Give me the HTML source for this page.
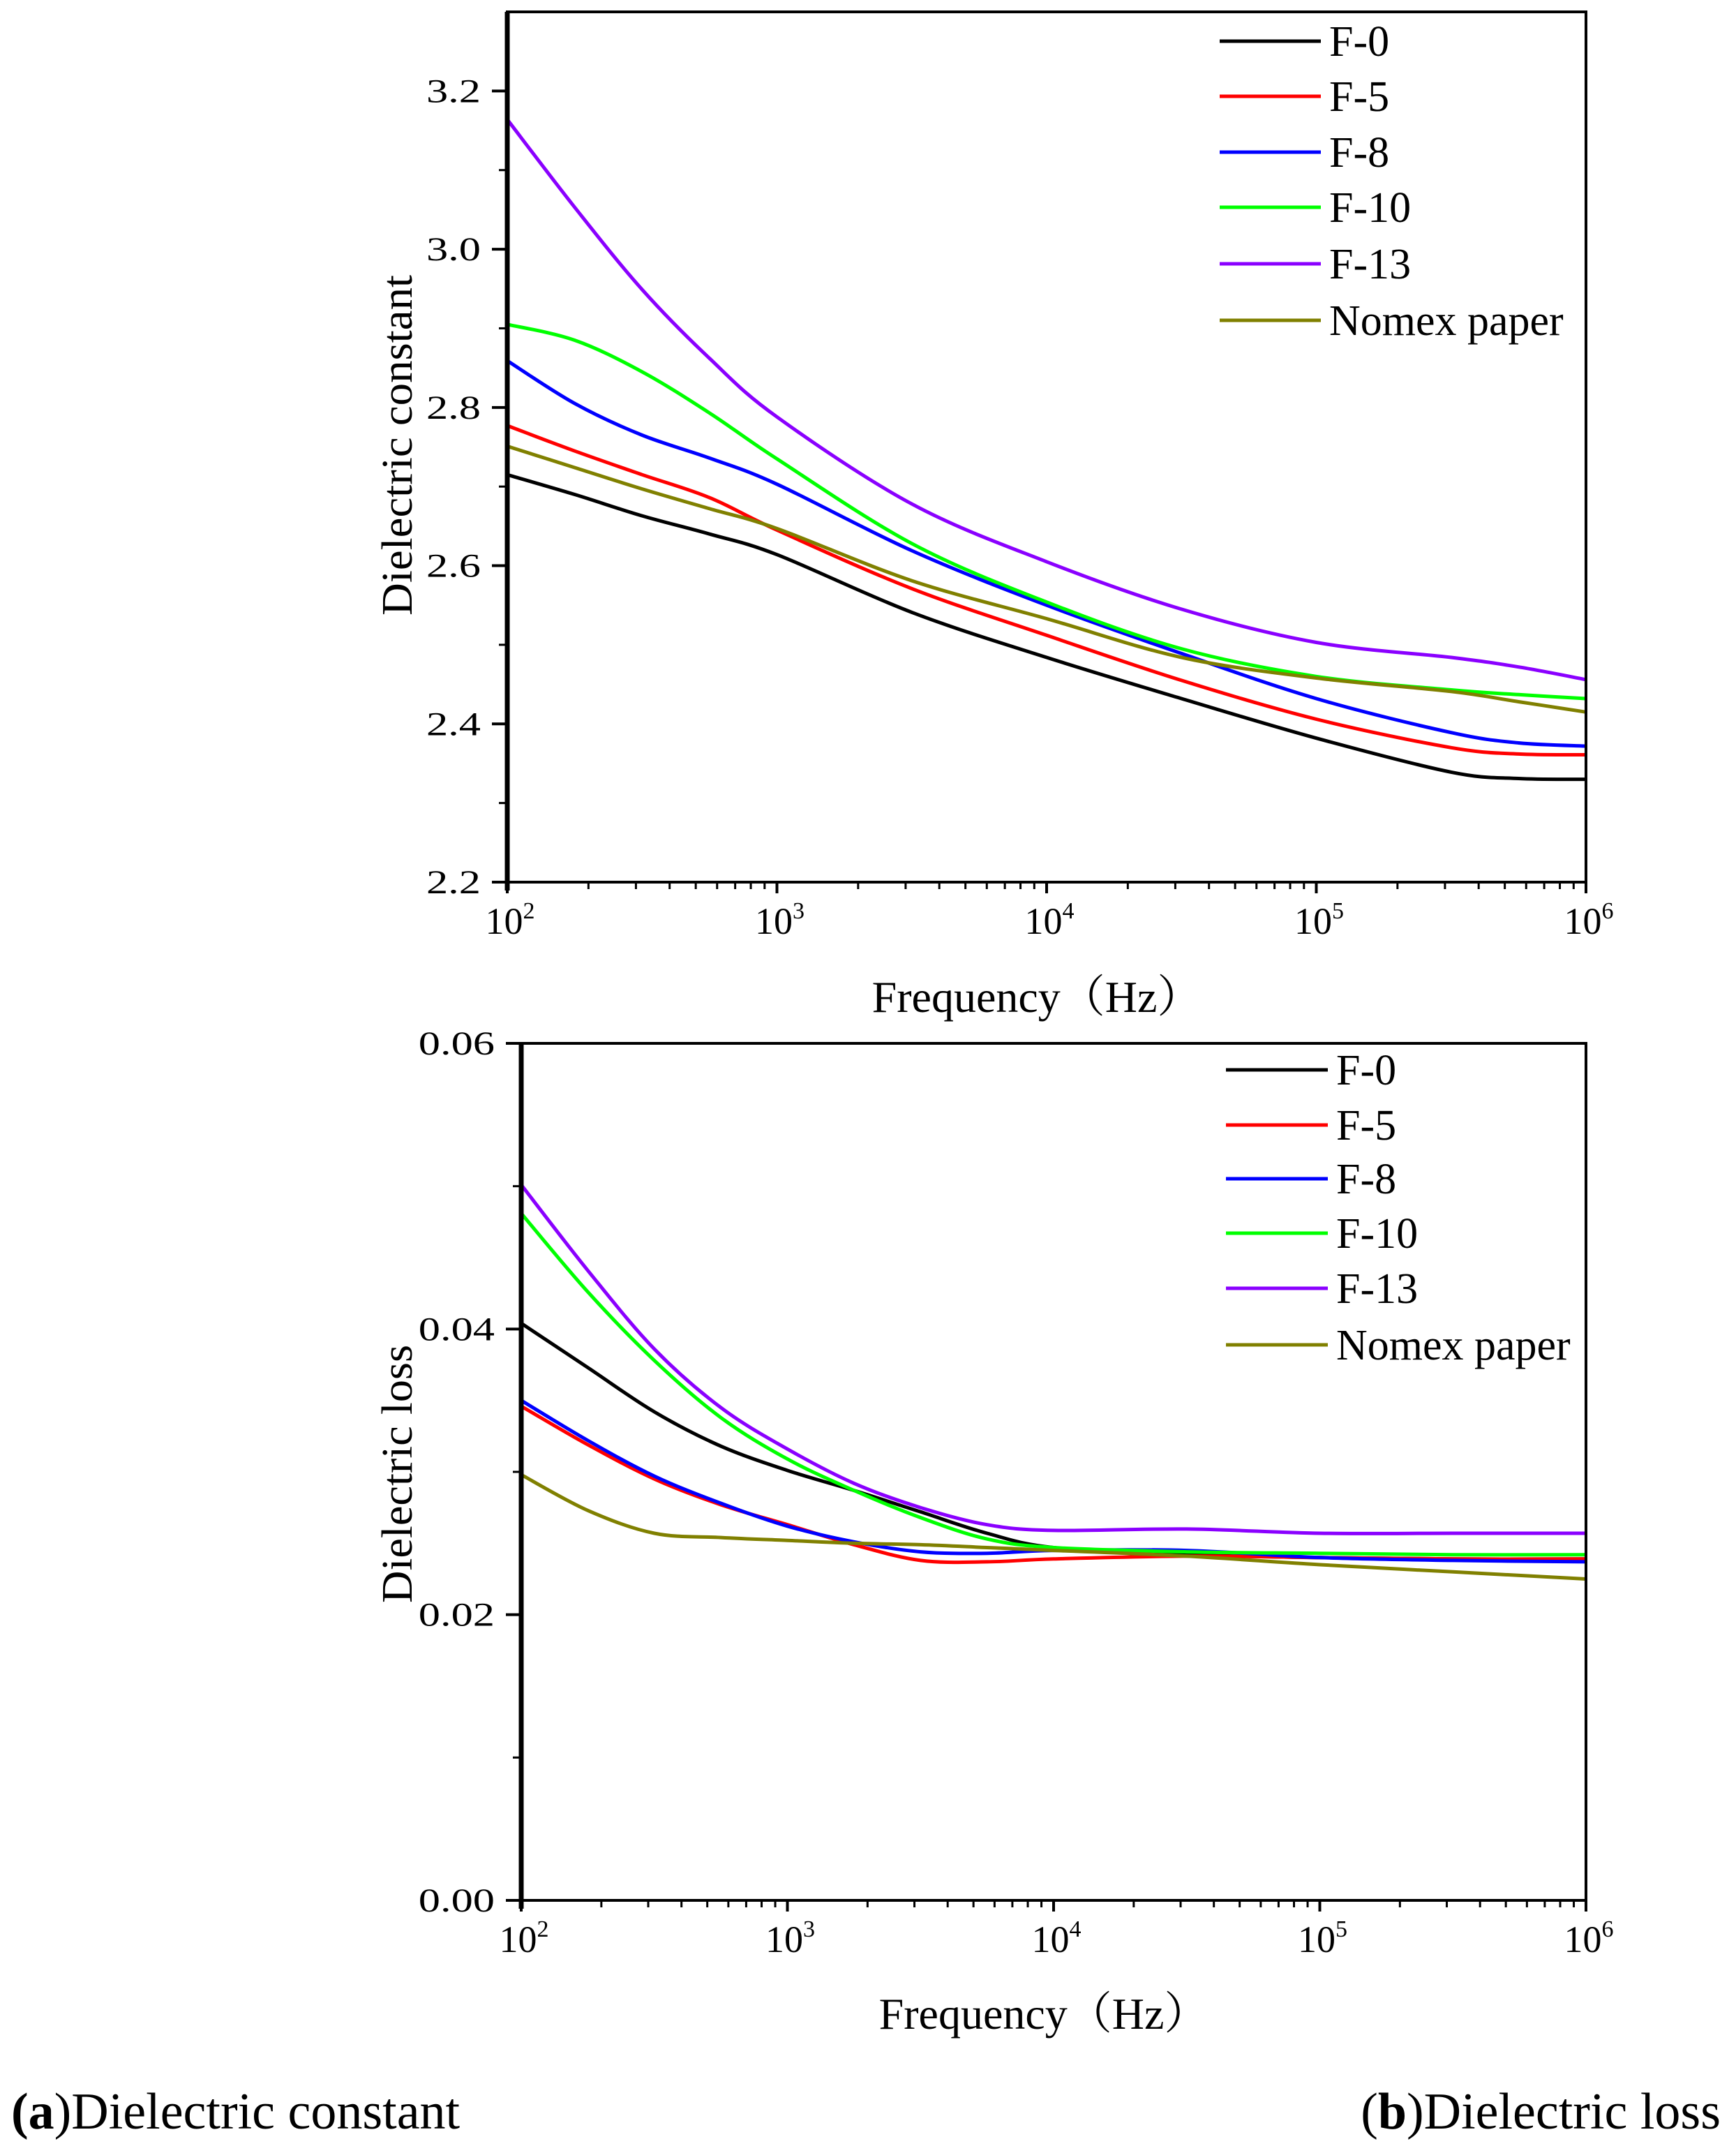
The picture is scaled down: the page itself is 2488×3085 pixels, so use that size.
<!DOCTYPE html>
<html><head><meta charset="utf-8"><style>
html,body{margin:0;padding:0;background:#fff;}
svg{display:block;font-family:"Liberation Serif","Noto Serif CJK SC",serif;}
</style></head><body>
<svg id="chart" width="2488" height="3085" viewBox="0 0 2488 3085" xmlns="http://www.w3.org/2000/svg">
<text x="16" y="3050" font-size="74"><tspan font-weight="bold">(a</tspan>)Dielectric constant</text>
<text x="2466" y="3050" font-size="74" text-anchor="end"><tspan>(</tspan><tspan font-weight="bold">b</tspan>)Dielectric loss</text>
</svg>
<script>
const seriesNames = ["F-0","F-5","F-8","F-10","F-13","Nomex paper"];
const seriesColors = ["#000000","#ff0000","#0000ff","#00ff00","#8a00ff","#808000"];
// Top chart: log10(frequency) exponents and dielectric constant
const topX = [2,2.25,2.5,2.75,3,3.5,4,4.5,5,5.5,5.75,6];
const topF0 = [2.715,2.690,2.663,2.640,2.614,2.541,2.484,2.432,2.382,2.339,2.331,2.330];
const topF5 = [2.777,2.745,2.715,2.686,2.645,2.571,2.512,2.455,2.406,2.370,2.362,2.361];
const topF8 = [2.859,2.805,2.765,2.736,2.703,2.619,2.550,2.489,2.432,2.389,2.376,2.372];
const topF10 = [2.905,2.885,2.845,2.793,2.735,2.628,2.554,2.495,2.460,2.443,2.437,2.432];
const topF13 = [3.164,3.053,2.949,2.862,2.788,2.678,2.605,2.545,2.503,2.484,2.472,2.456];
const topNomex = [2.751,2.724,2.697,2.672,2.647,2.581,2.533,2.484,2.458,2.441,2.428,2.415];
const topYTicks = ["2.2","2.4","2.6","2.8","3.0","3.2"];
// Bottom chart: dielectric loss
const botX = [2,2.25,2.5,2.75,3,3.25,3.5,3.75,4,4.5,5,5.5,6];
const botF0 = [0.0404,0.0373,0.0342,0.0318,0.0301,0.0287,0.0272,0.0257,0.0247,0.0242,0.0240,0.0239,0.0239];
const botF5 = [0.0346,0.0319,0.0295,0.0277,0.0263,0.0249,0.0238,0.0237,0.0239,0.0241,0.0240,0.0239,0.0239];
const botF8 = [0.0350,0.0322,0.0297,0.0278,0.0262,0.0251,0.0244,0.0243,0.0245,0.0245,0.0240,0.0238,0.0237];
const botF10 = [0.0481,0.0426,0.0378,0.0338,0.0309,0.0287,0.0268,0.0253,0.0247,0.0244,0.0243,0.0242,0.0242];
const botF13 = [0.0501,0.0441,0.0386,0.0345,0.0316,0.0292,0.0275,0.0263,0.0259,0.0260,0.0257,0.0257,0.0257];
const botNomex = [0.0298,0.0273,0.0257,0.0254,0.0252,0.0250,0.0249,0.0247,0.0245,0.0241,0.0235,0.0230,0.0225];
const botYTicks = ["0.00","0.02","0.04","0.06"];
const xTickExps = [2,3,4,5,6];

const NS="http://www.w3.org/2000/svg";
const svg=document.getElementById('chart');
function el(tag,attrs,parent){const e=document.createElementNS(NS,tag);for(const k in attrs)e.setAttribute(k,attrs[k]);(parent||svg).appendChild(e);return e;}
function smoothPath(pts){
  let d="M"+pts[0][0].toFixed(1)+","+pts[0][1].toFixed(1);
  for(let i=0;i<pts.length-1;i++){
    const p0=pts[Math.max(0,i-1)],p1=pts[i],p2=pts[i+1],p3=pts[Math.min(pts.length-1,i+2)];
    const c1=[p1[0]+(p2[0]-p0[0])/6,p1[1]+(p2[1]-p0[1])/6];
    const c2=[p2[0]-(p3[0]-p1[0])/6,p2[1]-(p3[1]-p1[1])/6];
    d+=" C"+c1[0].toFixed(1)+","+c1[1].toFixed(1)+" "+c2[0].toFixed(1)+","+c2[1].toFixed(1)+" "+p2[0].toFixed(1)+","+p2[1].toFixed(1);
  }
  return d;
}
function drawChart(cfg){
  const g=el('g',{});
  
  
  const xs=v=>cfg.L+(v-2)/4*(cfg.R-cfg.L);
  const ys=v=>cfg.B-(v-cfg.ymin)/(cfg.ymax-cfg.ymin)*(cfg.B-cfg.T);
  cfg.series.forEach((vals,si)=>{
    const pts=cfg.xv.map((x,i)=>[xs(x),ys(vals[i])]);
    const p=el('path',{d:smoothPath(pts),fill:'none',stroke:seriesColors[si],'stroke-width':5,'stroke-linejoin':'round'},g);
    
    
  });
  const fr=el('rect',{x:cfg.L,y:cfg.T,width:cfg.R-cfg.L,height:cfg.B-cfg.T,fill:'none',stroke:'#000','stroke-width':4},g);
  
  
  el('line',{x1:cfg.L,y1:cfg.T,x2:cfg.L,y2:cfg.B+12,stroke:'#000','stroke-width':7},g);
  cfg.yticks.forEach((t,i)=>{
    const v=parseFloat(t),y=ys(v);
    el('line',{x1:cfg.L-22,y1:y,x2:cfg.L,y2:y,stroke:'#000','stroke-width':4},g);
    const tx=el('text',{x:cfg.L-38,y:y+16,'font-size':48,'text-anchor':'end',transform:'translate('+(cfg.L-38)+',0) scale(1.3,1) translate('+(-(cfg.L-38))+',0)'},g);
    tx.textContent=t;
    
    
    if(i<cfg.yticks.length-1){
      const ym=ys(v+cfg.ystep/2);
      el('line',{x1:cfg.L-12,y1:ym,x2:cfg.L,y2:ym,stroke:'#000','stroke-width':3},g);
    }
  });
  xTickExps.forEach((e,i)=>{
    const x=xs(e);
    el('line',{x1:x,y1:cfg.B,x2:x,y2:cfg.B+16,stroke:'#000','stroke-width':4},g);
    const tx=el('text',{x:x+4,y:cfg.B+74,'font-size':54,'text-anchor':'middle'},g);
    tx.innerHTML='10<tspan font-size="34" dy="-22">'+e+'</tspan>';
    
    
    if(i<xTickExps.length-1){
      for(let m=2;m<=9;m++){
        const xm=xs(e+Math.log10(m));
        el('line',{x1:xm,y1:cfg.B,x2:xm,y2:cfg.B+10,stroke:'#000','stroke-width':3},g);
      }
    }
  });
  const xt=el('text',{x:cfg.xtX,y:cfg.xtY,'font-size':64,'text-anchor':'middle'},g);
  xt.textContent='Frequency（Hz）';
  
  
  const yt=el('text',{x:0,y:0,'font-size':62,'text-anchor':'middle',textLength:cfg.ytLen,lengthAdjust:'spacingAndGlyphs',transform:'translate('+cfg.ytX+','+cfg.ytY+') rotate(-90)'},g);
  yt.textContent=cfg.ytitle;
  
  
  seriesNames.forEach((n,si)=>{
    const y=cfg.legY[si];
    const lg=el('g',{},g);
    
    
    el('line',{x1:cfg.legX1,y1:y,x2:cfg.legX2,y2:y,stroke:seriesColors[si],'stroke-width':5},lg);
    const t=el('text',{x:cfg.legX2+12,y:y+21,'font-size':62},lg);
    t.textContent=n;
  });
}
drawChart({name:'dielectric-constant-chart',L:727,R:2273,T:17,B:1264,ymin:2.2,ymax:3.3,ystep:0.2,
  xv:topX,series:[topF0,topF5,topF8,topF10,topF13,topNomex],yticks:topYTicks,
  xtX:1486,xtY:1450,ytitle:'Dielectric constant',ytX:590,ytY:638,ytLen:488,
  legX1:1748,legX2:1893,legY:[59,138,218,297,378,459]});
drawChart({name:'dielectric-loss-chart',L:747,R:2273,T:1495,B:2723,ymin:0,ymax:0.06,ystep:0.02,
  xv:botX,series:[botF0,botF5,botF8,botF10,botF13,botNomex],yticks:botYTicks,
  xtX:1496,xtY:2907,ytitle:'Dielectric loss',ytX:590,ytY:2112,ytLen:370,
  legX1:1757,legX2:1903,legY:[1533,1612,1689,1767,1846,1927]});
</script>
</body></html>
